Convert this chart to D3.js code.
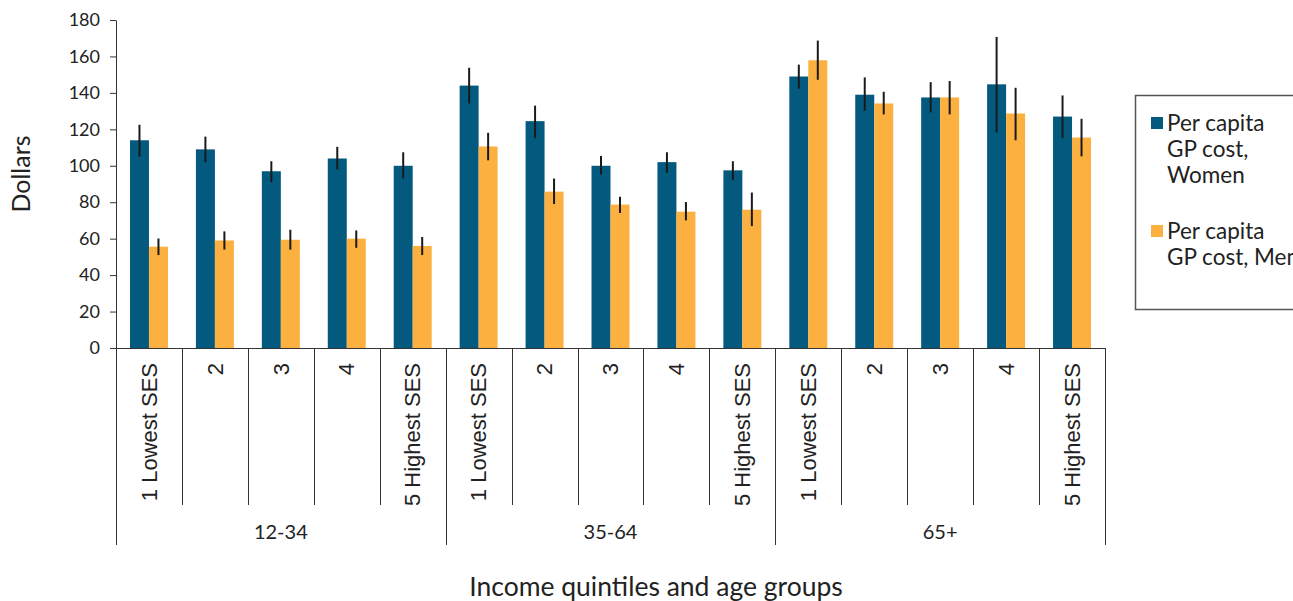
<!DOCTYPE html>
<html>
<head>
<meta charset="utf-8">
<script src="https://cdn.jsdelivr.net/npm/d3@7"></script>
<style>
  body { margin: 0; background: #fff; }
  svg text { fill: #222; }
</style>
</head>
<body>
<div id="graph"></div>
<script>
// quintile labels, repeated for each age group
const quintiles = ['1 Lowest SES', '2', '3', '4', '5 Highest SES'];
const ageGroups = ['12-34', '35-64', '65+'];
const seriesNames = ['Per capita GP cost, Women', 'Per capita GP cost, Men'];
const yTicks = [0, 20, 40, 60, 80, 100, 120, 140, 160, 180];

const women     = [114, 109, 97, 104, 100,   144, 124.5, 100, 102, 97.5,   149, 139, 137.5, 144.7, 127];
const womenHigh = [122.5, 116, 102.5, 110.4, 107.4,   153.8, 133, 105.4, 107.4, 102.5,   155.5, 148.5, 145.9, 170.7, 138.6];
const womenLow  = [105, 102, 91, 98, 93,   134.2, 115.1, 95.2, 96.1, 92,   142.3, 130.2, 129.3, 118.3, 115.1];

const men     = [55.6, 59, 59.4, 60, 56,   110.6, 85.8, 78.7, 74.8, 75.9,   157.9, 134.2, 137.5, 128.7, 115.5];
const menHigh = [60.1, 64, 64.9, 64.5, 60.9,   118.1, 93, 83, 80.1, 85.3,   168.7, 140.6, 146.5, 142.8, 125.8];
const menLow  = [51, 54, 54, 55, 51,   103, 79, 74.1, 70, 66.9,   147.2, 128.2, 128.2, 114, 105.2];

const colors = { Women: '#035a7e', Men: '#fbb040' };

const width = 1293, height = 601;
const plot = { left: 116, right: 1105, top: 20, bottom: 348 };

const svg = d3.select('#graph').append('svg')
  .attr('width', width).attr('height', height)
  .style('font-family', 'Lato, sans-serif');

// build rows from the arrays
const keys = [];
ageGroups.forEach(g => quintiles.forEach(q => keys.push(g + '|' + q)));
const rows = keys.map((k, i) => ({
  key: k,
  quintile: k.split('|')[1],
  values: [
    { s: 'Women', v: women[i], lo: womenLow[i], hi: womenHigh[i] },
    { s: 'Men',   v: men[i],   lo: menLow[i],   hi: menHigh[i] }
  ]
}));

const x = d3.scaleBand().domain(keys).range([plot.left, plot.right])
  .paddingInner(0.424).paddingOuter(0.212);
const xs = d3.scaleBand().domain(['Women', 'Men']).range([0, x.bandwidth()]);
const y = d3.scaleLinear().domain([0, 180]).range([plot.bottom, plot.top]);

// bars
const groups = svg.append('g').selectAll('g').data(rows).join('g')
  .attr('transform', d => `translate(${x(d.key)},0)`);
groups.selectAll('rect').data(d => d.values).join('rect')
  .attr('x', d => xs(d.s))
  .attr('y', d => y(d.v))
  .attr('width', xs.bandwidth())
  .attr('height', d => y(0) - y(d.v))
  .attr('fill', d => colors[d.s]);
// error bars
groups.selectAll('line').data(d => d.values).join('line')
  .attr('x1', d => xs(d.s) + xs.bandwidth() / 2)
  .attr('x2', d => xs(d.s) + xs.bandwidth() / 2)
  .attr('y1', d => y(d.hi))
  .attr('y2', d => y(d.lo))
  .attr('stroke', '#1a1a1a').attr('stroke-width', 2);

// y axis
const yAxis = svg.append('g').attr('transform', `translate(${plot.left},0)`)
  .call(d3.axisLeft(y).tickValues(yTicks).tickSize(6).tickSizeOuter(0).tickPadding(10));
yAxis.selectAll('text').style('font-family', 'Lato, sans-serif').style('font-size', '18px').attr('fill', '#222');
yAxis.selectAll('line, path').attr('stroke', '#333');

svg.append('text')
  .attr('transform', `translate(30,174) rotate(-90)`)
  .attr('text-anchor', 'middle')
  .style('font-size', '25px')
  .text('Dollars');

// x axis: baseline, separators and labels
const axisG = svg.append('g').attr('stroke', '#333').attr('stroke-width', 1);
axisG.append('line')
  .attr('x1', plot.left).attr('x2', plot.right)
  .attr('y1', plot.bottom + 0.5).attr('y2', plot.bottom + 0.5);

const half = (x.step() - x.bandwidth()) / 2;
const bounds = keys.map(k => x(k) - half).concat([x(keys[keys.length - 1]) + x.bandwidth() + half]);
bounds.forEach((b, i) => {
  const isGroup = i % quintiles.length === 0;
  axisG.append('line')
    .attr('x1', Math.round(b) + 0.5).attr('x2', Math.round(b) + 0.5)
    .attr('y1', plot.bottom).attr('y2', isGroup ? 545 : 505);
});

svg.append('g').selectAll('text').data(rows).join('text')
  .attr('transform', d => `translate(${x(d.key) + x.bandwidth() / 2},363) rotate(-90)`)
  .attr('text-anchor', 'end')
  .attr('dy', '0.35em')
  .style('font-family', '"Liberation Sans", Arial, sans-serif')
  .style('font-size', '22px')
  .text(d => d.quintile);

svg.append('g').selectAll('text').data(ageGroups).join('text')
  .attr('x', (d, i) => (bounds[i * 5] + bounds[i * 5 + 5]) / 2)
  .attr('y', 539)
  .attr('text-anchor', 'middle')
  .style('font-size', '20px')
  .text(d => d);

svg.append('text')
  .attr('x', 656).attr('y', 596)
  .attr('text-anchor', 'middle')
  .style('font-size', '26.5px')
  .text('Income quintiles and age groups');

// legend
const legend = svg.append('g');
legend.append('rect')
  .attr('x', 1135.5).attr('y', 95.5).attr('width', 200).attr('height', 214)
  .attr('fill', '#fff').attr('stroke', '#555').attr('stroke-width', 1.5);
const legendLines = [['Per capita', 'GP cost,', 'Women'], ['Per capita', 'GP cost, Men']];
const legendTop = [117, 225];
['Women', 'Men'].forEach((s, i) => {
  legend.append('rect')
    .attr('x', 1151).attr('y', legendTop[i]).attr('width', 12).attr('height', 12)
    .attr('fill', colors[s]);
  const t = legend.append('text')
    .attr('x', 1167).attr('y', legendTop[i] + 14)
    .style('font-size', '22.5px');
  legendLines[i].forEach((line, j) => {
    t.append('tspan').attr('x', 1167).attr('dy', j === 0 ? 0 : 26).text(line);
  });
});
</script>
</body>
</html>
